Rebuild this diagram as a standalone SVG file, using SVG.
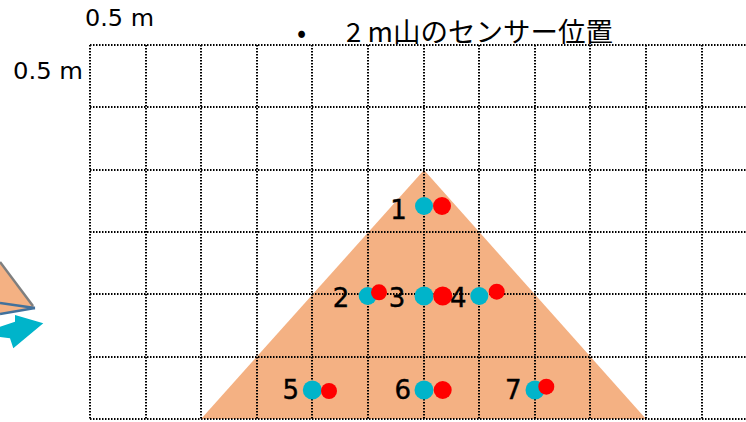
<svg xmlns="http://www.w3.org/2000/svg" width="746" height="422" viewBox="0 0 746 422">
<style>
.grid line{stroke:#000;stroke-width:2;stroke-dasharray:1.5 1.5;fill:none}
.lbl{font-family:"DejaVu Sans","Liberation Sans",sans-serif;font-size:23px;fill:#000}
.num{font-family:"DejaVu Sans","Liberation Sans",sans-serif;font-size:26px;fill:#000;text-anchor:middle;stroke:#000;stroke-width:0.4}
.ttl{font-family:"Noto Sans CJK JP","Noto Sans",sans-serif;font-size:27px;fill:#000}
.t{fill:#00B4CA}
.r{fill:#FF0000}
</style>
<rect width="746" height="422" fill="#fff"/>
<g id="left-icon">
<polygon points="0,262 35,308 0,314" fill="#F4B183"/>
<line x1="0" y1="262" x2="33" y2="306" stroke="#7F7F7F" stroke-width="2.5"/>
<line x1="0" y1="303" x2="35" y2="308" stroke="#41719C" stroke-width="2.5"/>
<line x1="0" y1="314" x2="35" y2="308" stroke="#41719C" stroke-width="2.5"/>
<polygon points="0,326.7 15,321.7 15,315 43.3,323.3 13.3,348.3 10,338.3 0,337" fill="#00B4CA"/>
</g>
<g id="mountain">
<polygon points="424,170 201,419 646,419" fill="#F4B183"/>
</g>
<g id="grid" class="grid">
<line x1="90" y1="45" x2="746" y2="45"/>
<line x1="90" y1="107" x2="746" y2="107"/>
<line x1="90" y1="170" x2="746" y2="170"/>
<line x1="90" y1="232" x2="746" y2="232"/>
<line x1="90" y1="294" x2="746" y2="294"/>
<line x1="90" y1="357" x2="746" y2="357"/>
<line x1="90" y1="419" x2="746" y2="419"/>
<line x1="90" y1="45" x2="90" y2="419"/>
<line x1="146" y1="45" x2="146" y2="419"/>
<line x1="201" y1="45" x2="201" y2="419"/>
<line x1="257" y1="45" x2="257" y2="419"/>
<line x1="312" y1="45" x2="312" y2="419"/>
<line x1="368" y1="45" x2="368" y2="419"/>
<line x1="424" y1="45" x2="424" y2="419"/>
<line x1="479" y1="45" x2="479" y2="419"/>
<line x1="535" y1="45" x2="535" y2="419"/>
<line x1="590" y1="45" x2="590" y2="419"/>
<line x1="646" y1="45" x2="646" y2="419"/>
<line x1="702" y1="45" x2="702" y2="419"/>
</g>
<g id="scale-labels">
<text class="lbl" x="85" y="26" textLength="69" lengthAdjust="spacingAndGlyphs">0.5 m</text>
<text class="lbl" x="13" y="79" textLength="70" lengthAdjust="spacingAndGlyphs">0.5 m</text>
</g>
<g id="title">
<text class="ttl" x="297" y="41.5">•</text>
<text class="ttl" x="346" y="41.5" textLength="267" lengthAdjust="spacingAndGlyphs">2 m山のセンサー位置</text>
</g>
<g id="sensor-1"><circle class="t" cx="424" cy="206" r="9"/><circle class="r" cx="442" cy="206" r="9"/><text class="num" x="398.5" y="218.5">1</text></g>
<g id="sensor-2"><circle class="t" cx="367.7" cy="296" r="9"/><circle class="r" cx="379" cy="292.3" r="8"/><text class="num" x="341" y="306.5">2</text></g>
<g id="sensor-3"><circle class="t" cx="424" cy="296" r="9.5"/><circle class="r" cx="442.7" cy="296" r="9.5"/><text class="num" x="397" y="306.5">3</text></g>
<g id="sensor-4"><circle class="t" cx="479.3" cy="296" r="9"/><circle class="r" cx="496.7" cy="291.7" r="8"/><text class="num" x="458.3" y="306.5">4</text></g>
<g id="sensor-5"><circle class="t" cx="312.3" cy="390" r="9.5"/><circle class="r" cx="329" cy="391" r="8"/><text class="num" x="290.7" y="399">5</text></g>
<g id="sensor-6"><circle class="t" cx="424" cy="390" r="9.5"/><circle class="r" cx="442.7" cy="390" r="9"/><text class="num" x="402.7" y="399">6</text></g>
<g id="sensor-7"><circle class="t" cx="535" cy="390" r="9.5"/><circle class="r" cx="546.3" cy="386.7" r="8"/><text class="num" x="513.3" y="399">7</text></g>
</svg>
